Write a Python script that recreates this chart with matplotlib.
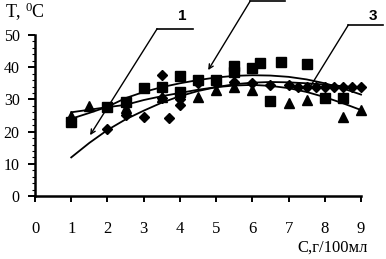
import matplotlib
matplotlib.use("Agg")
import matplotlib.pyplot as plt
from matplotlib.ticker import MultipleLocator

dia_x = [2.0, 2.5, 3.0, 3.5, 3.5, 3.7, 4.0, 4.0, 4.5, 5.0, 5.5, 6.0, 6.5, 7.0,
         7.25, 7.5, 7.75, 8.0, 8.25, 8.5, 8.75, 9.0]
dia_y = [20.8, 25.2, 24.5, 37.6, 30.5, 24.3, 28.3, 30.0, 35.0, 35.0, 35.5, 35.0,
         34.5, 34.5, 34.0, 34.0, 34.0, 34.0, 34.0, 34.0, 34.0, 34.0]

sq_x = [1.0, 2.0, 2.5, 3.0, 3.5, 4.0, 4.0, 4.5, 5.0, 5.5, 5.5, 6.0, 6.2, 6.5,
        6.8, 7.5, 8.0, 8.5]
sq_y = [23.0, 27.6, 29.2, 33.5, 33.9, 37.3, 32.3, 36.0, 36.0, 40.5, 38.5, 39.7,
        41.4, 29.5, 41.6, 41.0, 30.4, 30.4]

tri_x = [1.0, 1.5, 2.5, 3.5, 4.5, 5.0, 5.5, 6.0, 7.0, 7.5, 8.5, 9.0]
tri_y = [25.0, 28.0, 27.3, 30.7, 30.7, 33.0, 34.0, 33.0, 28.9, 29.8, 24.5, 26.7]

# trend curves, read every 0.5 along x
cx = [1.0, 1.5, 2.0, 2.5, 3.0, 3.5, 4.0, 4.5, 5.0, 5.5, 6.0, 6.5, 7.0, 7.5,
      8.0, 8.5, 9.0]
c1 = [12.0, 16.5, 20.5, 23.8, 26.5, 29.0, 31.0, 32.6, 33.8, 34.7, 35.2, 35.4,
      35.3, 35.0, 34.6, 34.1, 33.6]
c2 = [24.0, 25.8, 27.7, 30.4, 32.3, 33.8, 35.0, 36.0, 36.8, 37.3, 37.5, 37.4,
      37.0, 36.2, 35.0, 33.4, 31.5]
c3 = [26.0, 26.8, 27.6, 28.3, 29.8, 31.0, 32.0, 33.0, 33.8, 34.3, 34.5, 34.2,
      33.5, 32.3, 30.7, 28.8, 26.7]

x_ticks = [0, 1, 2, 3, 4, 5, 6, 7, 8, 9]
y_ticks = [0, 10, 20, 30, 40, 50]

SERIF = "Liberation Serif"

fig = plt.figure(figsize=(3.86, 2.59), dpi=100)
ax = fig.add_axes([0.0907, 0.243, 0.8446, 0.622])

for y in (c1, c2, c3):
    ax.plot(cx, y, color="black", linewidth=1.3, clip_on=False)

ax.plot(dia_x, dia_y, "D", color="black", markersize=5.5, linestyle="none", clip_on=False)
ax.plot(sq_x, sq_y, "s", color="black", markersize=6.5, linestyle="none", clip_on=False)
ax.plot(tri_x, tri_y, "^", color="black", markersize=7, linestyle="none", clip_on=False)

ax.set_xlim(0, 9)
ax.set_ylim(0, 50)
ax.set_xticks(x_ticks)
ax.set_yticks(y_ticks)
ax.yaxis.set_minor_locator(MultipleLocator(2))
ax.tick_params(axis="x", direction="out", length=4, width=1.4, pad=14,
               labelsize=12, labelfontfamily=SERIF)
ax.tick_params(axis="y", direction="out", length=5, width=1.4, pad=6,
               labelsize=11.5, labelfontfamily=SERIF)
ax.tick_params(axis="y", which="minor", length=2, width=0.8)

for s in ("top", "right"):
    ax.spines[s].set_visible(False)
for s in ("left", "bottom"):
    ax.spines[s].set_linewidth(1.8)

# leader lines to the curves
kw = dict(xycoords="data", textcoords="data", annotation_clip=False)
arrow = dict(arrowstyle="->", color="black", lw=1.0, mutation_scale=8,
             shrinkA=0, shrinkB=0)
ax.annotate("", xy=(1.52, 18.9), xytext=(3.37, 51.9), arrowprops=arrow, **kw)
ax.plot([3.37, 4.36], [51.9, 51.9], color="black", lw=1.2, clip_on=False)
ax.annotate("", xy=(4.78, 39.1), xytext=(5.94, 60.5), arrowprops=arrow, **kw)
ax.plot([5.94, 6.91], [60.5, 60.5], color="black", lw=1.2, clip_on=False)
ax.annotate("", xy=(7.54, 32.9), xytext=(8.65, 53.1), arrowprops=arrow, **kw)
ax.plot([8.65, 9.61], [53.1, 53.1], color="black", lw=1.2, clip_on=False)

ax.text(4.06, 56.0, "1", fontsize=11, fontweight="bold", family="Liberation Sans",
        ha="center", va="center")
ax.text(9.34, 56.0, "3", fontsize=11, fontweight="bold", family="Liberation Sans",
        ha="center", va="center")

fig.text(0.013, 0.955, r"T, $\mathregular{^0}$C", fontsize=13, family=SERIF,
         ha="left", va="center")
fig.text(0.952, 0.045, "С,г/100мл", fontsize=12, family=SERIF,
         ha="right", va="center")

fig.savefig("out.png", dpi=100)
